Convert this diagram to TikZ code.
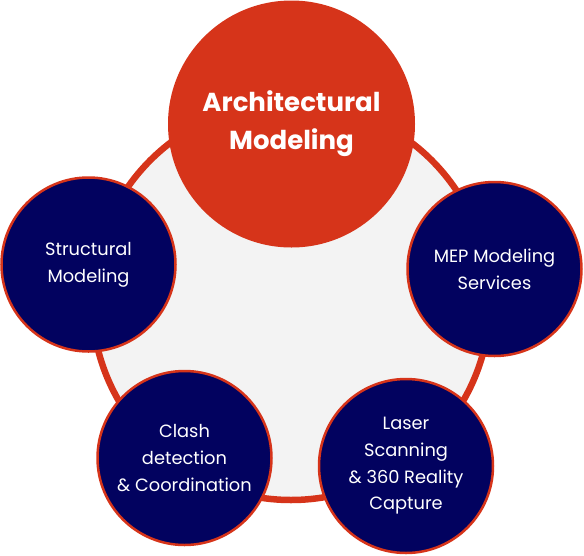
\documentclass[tikz,border=0pt]{standalone}
\usepackage{fontspec}
\setmainfont{Poppins}
\definecolor{archred}{HTML}{D6341A}
\definecolor{navyblue}{HTML}{02025F}
\definecolor{hubgray}{HTML}{F3F3F3}

\begin{document}
\begin{tikzpicture}[x=1pt,y=-1pt,
    service/.style={circle, fill=navyblue, draw=archred, line width=2.5pt,
        minimum size=174pt, inner sep=0pt, text=white, align=center,
        font=\fontsize{17.8}{26.7}\selectfont}]
        \useasboundingbox (0,0) rectangle (584,555);

        % Hub ring:
        \node[circle, fill=hubgray, draw=archred, line width=6.5pt,
            minimum size=398pt, inner sep=0pt] (hub) at (291,301) {};

        % Main service:
        \node[circle, fill=archred, minimum size=247pt, inner sep=0pt,
            text=white, align=center, font=\fontsize{26}{38}\selectfont\bfseries]
            (arch) at (291.5,124) {Architectural\\Modeling};

        % Other services:
        \node[service] (struct) at (88.5,264.5) {Structural\\Modeling};
        \node[service] (mep) at (494.5,269) {MEP Modeling\\Services};
        \node[service] (clash) at (184.5,458) {Clash\\detection\\\& Coordination};
        \node[service] (laser) at (406,466) {Laser\\Scanning\\\& 360 Reality\\Capture};

    \end{tikzpicture}
\end{document}
